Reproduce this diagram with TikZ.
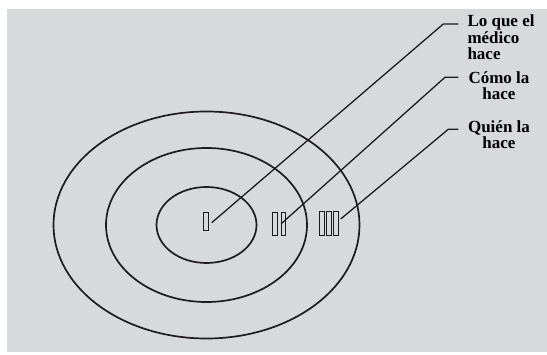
\documentclass[tikz,border=0pt]{standalone}
\usepackage{fontspec}
\setmainfont{Liberation Serif}
\usepackage{xcolor}
\usepackage{tikz}
\usetikzlibrary{positioning, calc}

\definecolor{panelgray}{RGB}{216,217,219}
\definecolor{inkdark}{RGB}{30,27,28}

\begin{document}
\begin{tikzpicture}[
    x=1pt, y=-1pt,
    ring/.style={draw=inkdark, line width=1.7pt},
    bar/.style={draw=inkdark, line width=0.5pt, rectangle, inner sep=0pt, minimum width=4.7pt},
    lead/.style={draw=inkdark, line width=1.3pt},
    tag/.style={inner sep=0pt, font=\fontsize{17}{16.7}\selectfont\bfseries}
]
\useasboundingbox (0,0) rectangle (547,355);
\fill[panelgray] (7,9) rectangle (547,352);

% target rings
\coordinate (c) at (206.5,225);
\draw[ring] (c) ellipse [x radius=153, y radius=113.5];
\draw[ring] (c) ellipse [x radius=100.5, y radius=77];
\draw[ring] (c) ellipse [x radius=50, y radius=38];

% bars
\node (one) [bar, minimum height=18.3pt] at (205.7,221) {};
\node (twoa) [bar, minimum height=23.7pt] at (274.7,223.8) {};
\node (twob) [bar, minimum height=23.7pt] at (283.2,223.8) {};
\node (threea) [bar, minimum height=24pt] at (321.5,223) {};
\node (threeb) [bar, minimum height=24pt] at (328.4,223) {};
\node (threec) [bar, minimum height=24pt] at (335.5,223) {};

% labels (base anchor sits on the last line)
\node (what) [tag, anchor=base west, align=left] at (467.3,60) {Lo que el\\médico\\hace};
\node (how) [tag, anchor=base, align=center] at (499,100) {Cómo la\\hace};
\node (who) [tag, anchor=base, align=center] at (499,149) {Quién la\\hace};

\coordinate (e1) at (211.7,222.7);
\coordinate (e2) at (281.7,223.3);
\coordinate (e3) at (340.7,219);
\coordinate (k1) at (443.3,24);
\coordinate (k2) at (445,77.3);
\coordinate (k3) at (448.3,129.3);

\draw[lead] (e1) -- (k1) -- (458.3,24);
\draw[lead] (e2) -- (k2) -- (458.3,77.3);
\draw[lead] (e3) -- (k3) -- (458.3,129.3);
\end{tikzpicture}
\end{document}
